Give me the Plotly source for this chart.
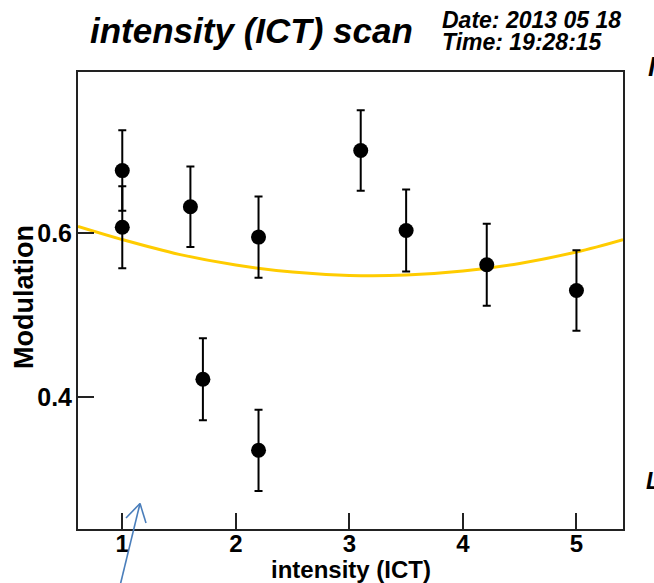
import plotly.graph_objects as go

# ---- data ----
intensity = [1.0, 1.0, 1.6, 1.71, 2.2, 2.2, 3.1, 3.5, 4.21, 5.0]
modulation = [0.676, 0.607, 0.632, 0.422, 0.595, 0.3355, 0.7005, 0.603, 0.5614, 0.530]
modulation_err = [0.049, 0.05, 0.049, 0.05, 0.0495, 0.0495, 0.049, 0.05, 0.05, 0.049]

fit_x = [0.61, 1.0, 1.5, 2.0, 2.5, 3.0, 3.5, 4.0, 4.5, 5.0, 5.41]
fit_y = [0.608, 0.592, 0.574, 0.561, 0.5525, 0.5484, 0.5488, 0.5537, 0.563, 0.5769, 0.592]

x_ticks = [1, 2, 3, 4, 5]
x_tick_labels = ["1", "2", "3", "4", "5"]
y_ticks = [0.4, 0.6]
y_tick_labels = ["0.4", "0.6"]

title_text = "intensity (ICT) scan"
date_text = "Date: 2013 05 18"
time_text = "Time: 19:28:15"
x_title = "intensity (ICT)"
y_title = "Modulation"

# ---- layout geometry ----
W, H = 654, 583
L, R, T, B = 78, 31, 72, 54
PW, PH = W - L - R, H - T - B


def px(xp):
    return (xp - L) / PW


def py(yp):
    return (H - B - yp) / PH


FONT = "Liberation Sans"

fig = go.Figure()

fig.add_trace(go.Scatter(
    x=fit_x, y=fit_y, mode="lines", line=dict(color="#FFCC00", width=3, shape="spline"),
    hoverinfo="skip", showlegend=False,
))

fig.add_trace(go.Scatter(
    x=intensity, y=modulation, mode="markers",
    marker=dict(color="black", size=15, symbol="circle"),
    error_y=dict(type="data", array=modulation_err, color="black", thickness=2, width=4),
    showlegend=False,
))

axis_common = dict(
    showgrid=False, zeroline=False, showline=True, linecolor="#222222", linewidth=2,
    mirror=True, ticks="inside", ticklen=16, tickwidth=1.5, tickcolor="#222222",
)

fig.update_xaxes(range=[0.61, 5.41], tickvals=x_ticks, ticktext=x_tick_labels,
                 ticklabelstandoff=-8,
                 tickfont=dict(family=FONT, size=24, color="black", weight="bold"),
                 **axis_common)
fig.update_yaxes(range=[0.2397, 0.796], tickvals=y_ticks, ticktext=y_tick_labels,
                 ticklabelstandoff=-1,
                 tickfont=dict(family=FONT, size=25, color="black", weight="bold"),
                 **axis_common)

ann = []
ann.append(dict(text=title_text, xref="paper", yref="paper", x=px(88), y=py(52),
                xanchor="left", yanchor="bottom", showarrow=False,
                font=dict(family=FONT, size=35, color="black", weight="bold", style="italic")))
ann.append(dict(text=date_text, xref="paper", yref="paper", x=px(440), y=py(35),
                xanchor="left", yanchor="bottom", showarrow=False,
                font=dict(family=FONT, size=23, color="black", weight="bold", style="italic")))
ann.append(dict(text=time_text, xref="paper", yref="paper", x=px(440), y=py(57),
                xanchor="left", yanchor="bottom", showarrow=False,
                font=dict(family=FONT, size=23, color="black", weight="bold", style="italic")))
ann.append(dict(text=x_title, xref="paper", yref="paper", x=0.5, y=py(585),
                xanchor="center", yanchor="bottom", showarrow=False,
                font=dict(family=FONT, size=24, color="black", weight="bold")))
ann.append(dict(text=y_title, xref="paper", yref="paper", x=px(24), y=py(297), textangle=-90,
                xanchor="center", yanchor="middle", showarrow=False,
                font=dict(family=FONT, size=27, color="black", weight="bold")))
# cut-off glyphs of neighbouring text at the right edge
ann.append(dict(text="M", xref="paper", yref="paper", x=px(646), y=py(84),
                xanchor="left", yanchor="bottom", showarrow=False,
                font=dict(family=FONT, size=28, color="black", weight="bold", style="italic")))
ann.append(dict(text="L", xref="paper", yref="paper", x=px(644), y=py(496),
                xanchor="left", yanchor="bottom", showarrow=False,
                font=dict(family=FONT, size=23, color="black", weight="bold", style="italic")))

# blue pointer arrow (thin line-drawn head)
ARROW = "#4A7EBB"
arrow_tip = (140, 503.5)
arrow_tail = (118.5, 592)
arrow_barbs = [(126, 518), (146, 523)]
shapes = [dict(type="line", xref="paper", yref="paper",
               x0=px(arrow_tail[0]), y0=py(arrow_tail[1]),
               x1=px(arrow_tip[0]), y1=py(arrow_tip[1]),
               line=dict(color=ARROW, width=1.6))]
for bx, by in arrow_barbs:
    shapes.append(dict(type="line", xref="paper", yref="paper",
                       x0=px(arrow_tip[0]), y0=py(arrow_tip[1]), x1=px(bx), y1=py(by),
                       line=dict(color=ARROW, width=1.6)))

fig.update_layout(
    width=W, height=H, margin=dict(l=L, r=R, t=T, b=B, pad=0),
    paper_bgcolor="white", plot_bgcolor="white",
    annotations=ann, shapes=shapes, showlegend=False,
)

fig.write_html("out.html")
